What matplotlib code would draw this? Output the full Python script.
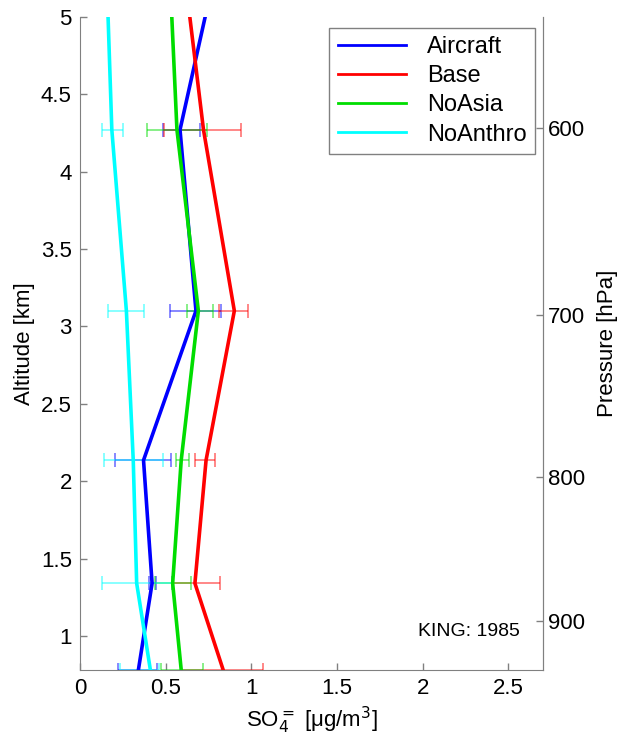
import matplotlib
matplotlib.use('Agg')
import matplotlib.pyplot as plt
import numpy as np
from matplotlib.ticker import FormatStrFormatter

plt.rcParams['font.family'] = ['Liberation Sans', 'DejaVu Sans']

# altitude levels [km] (bottom, error-bar levels, top)
alt = [0.78, 1.34, 2.135, 3.10, 4.27, 5.0]

aircraft = [0.34, 0.42, 0.37, 0.676, 0.583, 0.73]
base = [0.835, 0.67, 0.735, 0.90, 0.72, 0.64]
noasia = [0.59, 0.54, 0.59, 0.69, 0.565, 0.535]
noanthro = [0.41, 0.33, 0.31, 0.27, 0.185, 0.163]

# error bar ranges (low, high) at the first five levels
aircraft_lo = [0.22, 0.40, 0.204, 0.525, 0.483]
aircraft_hi = [0.45, 0.44, 0.53, 0.825, 0.70]
base_lo = [0.59, 0.534, 0.67, 0.81, 0.49]
base_hi = [1.07, 0.816, 0.79, 0.98, 0.94]
noasia_lo = [0.47, 0.437, 0.56, 0.625, 0.39]
noasia_hi = [0.72, 0.647, 0.636, 0.775, 0.74]
noanthro_lo = [0.235, 0.13, 0.14, 0.165, 0.127]
noanthro_hi = [0.46, 0.535, 0.483, 0.37, 0.25]

series = [
    ('Aircraft', aircraft, aircraft_lo, aircraft_hi, '#0000ff'),
    ('Base', base, base_lo, base_hi, '#ff0000'),
    ('NoAsia', noasia, noasia_lo, noasia_hi, '#00dd00'),
    ('NoAnthro', noanthro, noanthro_lo, noanthro_hi, '#00ffff'),
]

fig = plt.figure(figsize=(6.26, 7.44), dpi=100)
ax = fig.add_axes([0.128, 0.0995, 0.739, 0.878])

for name, vals, lo, hi, col in series:
    n = len(lo)
    v = np.array(vals[:n])
    xerr = [v - np.array(lo), np.array(hi) - v]
    ax.errorbar(v, alt[:n], xerr=xerr, fmt='none', ecolor=col, alpha=0.55,
                elinewidth=1.2, capsize=5, capthick=1.2, clip_on=True)
for name, vals, lo, hi, col in series:
    ax.plot(vals, alt, color=col, lw=2.6, label=name)

ax.set_xlim(0, 2.7)
ax.set_ylim(0.78, 5.0)
ax.set_xticks([0, 0.5, 1, 1.5, 2, 2.5])
ax.set_yticks([1, 1.5, 2, 2.5, 3, 3.5, 4, 4.5, 5])
ax.xaxis.set_major_formatter(FormatStrFormatter('%g'))
ax.yaxis.set_major_formatter(FormatStrFormatter('%g'))
ax.tick_params(direction='in', labelsize=16, color='#808080', length=5, width=1, pad=6)
ax.spines['top'].set_visible(False)
for s in ['left', 'right', 'bottom']:
    ax.spines[s].set_color('#808080')
ax.set_xlabel('SO$_4^{=}$ [μg/m$^3$]', fontsize=16, labelpad=4)
ax.set_ylabel('Altitude [km]', fontsize=16, labelpad=4)

def alt2p(z):
    return 1000.0 * np.exp(-(np.asarray(z) - 0.272) / 7.85)

def p2alt(p):
    return 0.272 - 7.85 * np.log(np.asarray(p) / 1000.0)

sec = ax.secondary_yaxis('right', functions=(alt2p, p2alt))
sec.set_yticks([600, 700, 800, 900])
sec.yaxis.set_major_formatter(FormatStrFormatter('%g'))
sec.tick_params(direction='in', labelsize=16, color='#808080', length=5, width=1, pad=4)
sec.spines['right'].set_color('#808080')
sec.set_ylabel('Pressure [hPa]', fontsize=16, labelpad=8)

leg = ax.legend(loc='upper right', bbox_to_anchor=(0.994, 0.99), fontsize=17,
                fancybox=False, framealpha=1, handlelength=2.9, borderpad=0.35,
                labelspacing=0.3, handletextpad=0.9, borderaxespad=0.2)
leg.get_frame().set_edgecolor('#808080')
for h in leg.get_lines():
    h.set_linewidth(2)

ax.text(1.97, 1.03, 'KING: 1985', fontsize=14, ha='left', va='center')

plt.savefig('out.png', dpi=100)
